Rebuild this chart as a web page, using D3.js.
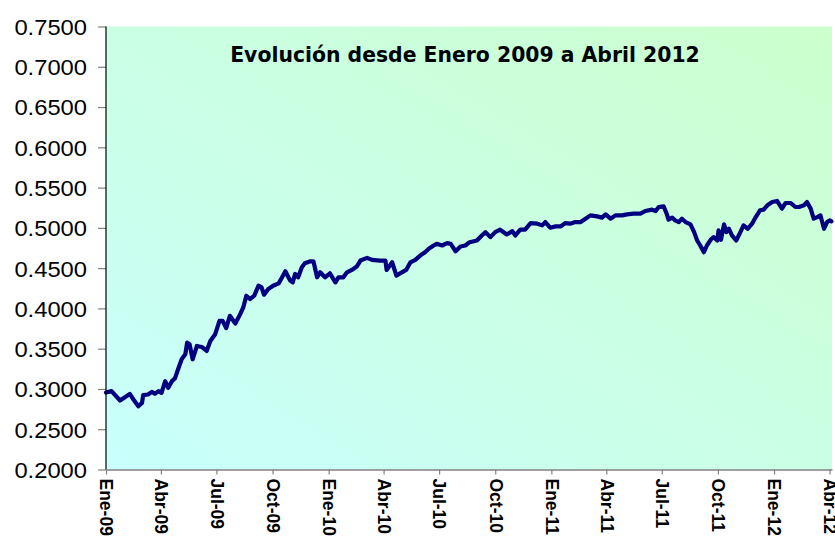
<!DOCTYPE html>
<html>
<head>
<meta charset="utf-8">
<script src="https://cdn.jsdelivr.net/npm/d3@7"></script>
<style>
  html, body { margin: 0; padding: 0; background: #ffffff; }
  svg { display: block; }
</style>
</head>
<body>
<svg id="chart" width="835" height="540"></svg>
<script>
// ---- data ----
const title = "Evolución desde Enero 2009 a Abril 2012";
const dates = [
  "2009-01-01","2009-01-10","2009-01-16","2009-01-24","2009-02-01","2009-02-09","2009-02-15","2009-02-23",
  "2009-03-01","2009-03-03","2009-03-11","2009-03-17","2009-03-22","2009-03-28","2009-04-02","2009-04-08",
  "2009-04-13","2009-04-19","2009-04-24","2009-04-30","2009-05-05","2009-05-11","2009-05-14","2009-05-18",
  "2009-05-23","2009-05-30","2009-06-07","2009-06-15","2009-06-21","2009-06-29","2009-07-06","2009-07-11",
  "2009-07-17","2009-07-23","2009-08-01","2009-08-09","2009-08-14","2009-08-19","2009-08-25","2009-09-01",
  "2009-09-08","2009-09-13","2009-09-17","2009-09-24","2009-10-02","2009-10-11","2009-10-16","2009-10-22",
  "2009-10-27","2009-10-30","2009-11-03","2009-11-07","2009-11-12","2009-11-18","2009-11-23","2009-12-02",
  "2009-12-07","2009-12-13","2009-12-18","2009-12-26","2010-01-03","2010-01-12","2010-01-17","2010-01-25",
  "2010-01-31","2010-02-08","2010-02-16","2010-02-22","2010-03-05","2010-03-13","2010-03-26","2010-04-04",
  "2010-04-06","2010-04-15","2010-04-22","2010-05-01","2010-05-08","2010-05-15","2010-05-23","2010-05-31",
  "2010-06-08","2010-06-14","2010-06-22","2010-06-27","2010-07-06","2010-07-14","2010-07-20","2010-07-28",
  "2010-08-05","2010-08-13","2010-08-20","2010-09-01","2010-09-09","2010-09-15","2010-09-23","2010-10-01",
  "2010-10-09","2010-10-20","2010-10-29","2010-11-03","2010-11-11","2010-11-19","2010-11-28","2010-12-09",
  "2010-12-17","2010-12-22","2010-12-30","2011-01-08","2011-01-16","2011-01-24","2011-02-01","2011-02-09",
  "2011-02-18","2011-02-26","2011-03-06","2011-03-17","2011-03-25","2011-03-31","2011-04-08","2011-04-16",
  "2011-04-27","2011-05-05","2011-05-16","2011-05-27","2011-06-04","2011-06-15","2011-06-21","2011-06-26",
  "2011-07-04","2011-07-09","2011-07-12","2011-07-18","2011-07-23","2011-07-29","2011-08-03","2011-08-09",
  "2011-08-17","2011-08-23","2011-08-28","2011-09-02","2011-09-08","2011-09-13","2011-09-19","2011-09-24",
  "2011-09-30","2011-10-02","2011-10-06","2011-10-11","2011-10-15","2011-10-19","2011-10-24","2011-10-31",
  "2011-11-06","2011-11-12","2011-11-19","2011-11-26","2011-12-02","2011-12-09","2011-12-15","2011-12-21",
  "2011-12-29","2012-01-06","2012-01-14","2012-01-20","2012-01-28","2012-02-05","2012-02-11","2012-02-19",
  "2012-02-24","2012-03-01","2012-03-06","2012-03-12","2012-03-17","2012-03-23","2012-03-28","2012-04-01",
  "2012-04-04"
];
const values = [
  0.2955,0.2973,0.2923,0.2857,0.2898,0.2939,0.2869,0.2786,
  0.2827,0.2923,0.2931,0.2964,0.2939,0.2973,0.2951,0.3097,
  0.3014,0.3097,0.3131,0.3263,0.3368,0.3430,0.3575,0.3555,
  0.3368,0.3534,0.3521,0.3472,0.3596,0.3680,0.3846,0.3846,
  0.3755,0.3908,0.3812,0.3929,0.4012,0.4158,0.4116,0.4158,
  0.4282,0.4261,0.4170,0.4241,0.4282,0.4311,0.4378,0.4461,
  0.4386,0.4345,0.4323,0.4428,0.4386,0.4510,0.4560,0.4585,
  0.4585,0.4386,0.4448,0.4386,0.4436,0.4323,0.4386,0.4386,
  0.4448,0.4478,0.4519,0.4594,0.4628,0.4603,0.4594,0.4594,
  0.4478,0.4573,0.4407,0.4448,0.4478,0.4573,0.4603,0.4656,
  0.4698,0.4740,0.4781,0.4802,0.4781,0.4810,0.4802,0.4710,
  0.4769,0.4781,0.4822,0.4843,0.4906,0.4947,0.4885,0.4947,
  0.4977,0.4918,0.4959,0.4906,0.4977,0.4977,0.5059,0.5052,
  0.5031,0.5072,0.5002,0.5018,0.5018,0.5059,0.5052,0.5072,
  0.5072,0.5114,0.5155,0.5143,0.5127,0.5168,0.5114,0.5155,
  0.5155,0.5168,0.5176,0.5176,0.5209,0.5226,0.5209,0.5259,
  0.5268,0.5176,0.5102,0.5127,0.5093,0.5072,0.5114,0.5072,
  0.5043,0.4947,0.4843,0.4781,0.4698,0.4781,0.4852,0.4885,
  0.4843,0.4968,0.4852,0.5043,0.4947,0.4989,0.4906,0.4843,
  0.4935,0.5031,0.4989,0.5052,0.5134,0.5218,0.5226,0.5280,
  0.5321,0.5334,0.5239,0.5309,0.5309,0.5259,0.5259,0.5280,
  0.5321,0.5239,0.5114,0.5134,0.5155,0.4989,0.5072,0.5093,
  0.5080
];
const yTicks = [0.20,0.25,0.30,0.35,0.40,0.45,0.50,0.55,0.60,0.65,0.70,0.75];
const xTickDates = ["2009-01-01","2009-04-01","2009-07-01","2009-10-01","2010-01-01","2010-04-01","2010-07-01",
  "2010-10-01","2011-01-01","2011-04-01","2011-07-01","2011-10-01","2012-01-01","2012-04-01"];
const xTickLabels = ["Ene-09","Abr-09","Jul-09","Oct-09","Ene-10","Abr-10","Jul-10",
  "Oct-10","Ene-11","Abr-11","Jul-11","Oct-11","Ene-12","Abr-12"];

// ---- layout ----
const L = 106, R = 832, T = 26.5, B = 469.5;
const parse = d3.timeParse("%Y-%m-%d");
const svg = d3.select("#chart");

const x = d3.scaleTime()
  .domain([parse("2009-01-01"), parse("2012-04-05")])
  .range([L, R]);
const y = d3.scaleLinear().domain([0.20, 0.75]).range([B, T]);

// gradient background
const defs = svg.append("defs");
const grad = defs.append("linearGradient").attr("id", "bg")
  .attr("x1", "0%").attr("y1", "100%").attr("x2", "100%").attr("y2", "0%");
grad.append("stop").attr("offset", "0%").attr("stop-color", "#c9fffd");
grad.append("stop").attr("offset", "100%").attr("stop-color", "#ccffcc");

svg.append("rect").attr("x", L).attr("y", T).attr("width", R - L).attr("height", B - T)
  .attr("fill", "url(#bg)");

// title
const titleText = svg.append("text")
  .attr("x", 465).attr("y", 62)
  .attr("text-anchor", "middle")
  .attr("font-family", "'DejaVu Sans', Verdana, sans-serif")
  .attr("font-weight", "bold")
  .attr("font-size", 16)
  .attr("fill", "#000")
  .text(title);
const tl = titleText.node().getComputedTextLength();
titleText.attr("font-size", 16 * 470 / tl);

// line
const data = dates.map((d, i) => ({ date: parse(d), value: values[i] }));
const line = d3.line().x(d => x(d.date)).y(d => y(d.value));
svg.append("path").datum(data)
  .attr("d", line)
  .attr("fill", "none")
  .attr("stroke", "#000080")
  .attr("stroke-width", 4.2)
  .attr("stroke-linejoin", "round")
  .attr("stroke-linecap", "round");

// y axis
const yAxis = d3.axisLeft(y).tickValues(yTicks).tickFormat(d3.format(".4f")).tickSize(8);
const gy = svg.append("g").attr("transform", `translate(${L},0)`).call(yAxis);
gy.select(".domain").remove();
gy.selectAll(".tick line").attr("stroke", "#808080").attr("stroke-width", 1.2);
gy.selectAll(".tick text")
  .attr("font-family", "'Liberation Sans', Arial, sans-serif")
  .attr("font-size", 22)
  .attr("fill", "#000")
  .attr("x", 0)
  .attr("dy", "0.36em")
  .attr("text-anchor", "end")
  .attr("transform", "translate(-19,0) scale(1.08,1)");
svg.append("line").attr("x1", L).attr("x2", L).attr("y1", T).attr("y2", B)
  .attr("stroke", "#000").attr("stroke-width", 1.2);

// x axis
const xAxis = d3.axisBottom(x)
  .tickValues(xTickDates.map(parse))
  .tickFormat((d, i) => xTickLabels[i])
  .tickSize(5).tickSizeOuter(0);
const gx = svg.append("g").attr("transform", `translate(0,${B})`).call(xAxis);
gx.select(".domain").attr("stroke", "#808080").attr("stroke-width", 1.5);
gx.selectAll(".tick line").attr("stroke", "#808080").attr("stroke-width", 1.2);
gx.selectAll(".tick text")
  .attr("font-family", "'Liberation Sans', Arial, sans-serif")
  .attr("font-weight", "bold")
  .attr("font-size", 17.5)
  .attr("fill", "#000")
  .attr("text-anchor", "start")
  .attr("y", 0).attr("dy", "0.35em")
  .attr("transform", "translate(0,9) rotate(90)");
</script>
</body>
</html>
